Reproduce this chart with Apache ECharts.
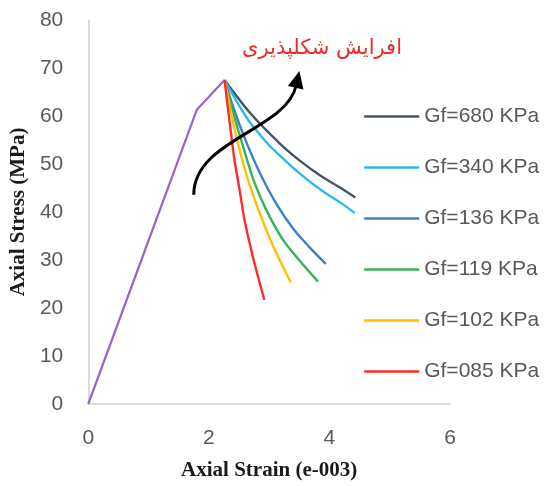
<!DOCTYPE html>
<html>
<head>
<meta charset="utf-8">
<script src="https://cdn.jsdelivr.net/npm/echarts@6/dist/echarts.min.js"></script>
<style>html,body{margin:0;padding:0;background:#fff}#c{width:544px;height:486px}</style>
</head>
<body>
<div id="c"></div>
<script>
// Elastic (pre-peak) branch
const preX = [0, 1.80, 2.26];
const preY = [0, 61.3, 67.5];
// Post-peak branches for each Gf
const names = ['Gf=680 KPa', 'Gf=340 KPa', 'Gf=136 KPa', 'Gf=119 KPa', 'Gf=102 KPa', 'Gf=085 KPa'];
const x680 = [2.26, 2.70, 3.20, 3.53, 3.86, 4.19, 4.43];
const y680 = [67.5, 60.4, 54.0, 50.5, 47.5, 45.0, 43.0];
const x340 = [2.26, 2.62, 2.95, 3.20, 3.53, 3.86, 4.19, 4.42];
const y340 = [67.5, 59.8, 54.6, 51.5, 47.8, 44.6, 41.9, 39.8];
const x136 = [2.26, 2.42, 2.62, 2.87, 3.12, 3.40, 3.66, 3.94];
const y136 = [67.5, 61.3, 54.6, 47.5, 41.7, 36.5, 32.8, 29.2];
const x119 = [2.26, 2.39, 2.56, 2.74, 2.95, 3.23, 3.49, 3.81];
const y119 = [67.5, 61.3, 54.0, 46.7, 40.5, 34.2, 30.1, 25.5];
const x102 = [2.26, 2.36, 2.49, 2.65, 2.84, 3.07, 3.36];
const y102 = [67.5, 61.3, 54.0, 46.7, 39.9, 32.8, 25.3];
const x085 = [2.26, 2.34, 2.42, 2.51, 2.60, 2.75, 2.92];
const y085 = [67.5, 59.2, 51.3, 44.6, 37.8, 29.7, 21.7];
const xTicks = [0, 2, 4, 6];
const yTicks = [0, 10, 20, 30, 40, 50, 60, 70, 80];
// Annotation arrow (data coords): start, control1, control2, end
const arrowX = [1.75, 1.75, 3.28, 3.44];
const arrowY = [43.6, 55.1, 57.0, 65.9];
const noteText = 'افرایش شکلپذیری';

const colors = ['#44546a', '#2fb8ee', '#3d80c6', '#36b35a', '#ffc000', '#ff2a2a'];
const xs = [x680, x340, x136, x119, x102, x085];
const ys = [y680, y340, y136, y119, y102, y085];
const pair = (a, b) => a.map((v, i) => [v, b[i]]);

const chart = echarts.init(document.getElementById('c'));
const series = [{
  type: 'line', name: 'pre', data: pair(preX, preY), symbol: 'none',
  lineStyle: { color: '#9a62cc', width: 2.2 }, itemStyle: { color: '#9a62cc' }, z: 1
}];
names.forEach((n, i) => {
  series.push({
    type: 'line', name: n, data: pair(xs[i], ys[i]), symbol: 'none', smooth: 0.3,
    lineStyle: { color: colors[i], width: 2.4 }, itemStyle: { color: colors[i] }, z: 2
  });
});

const tickFont = { fontFamily: 'Liberation Sans', fontSize: 21, color: '#595959' };
const titleFont = { fontFamily: 'Liberation Serif', fontSize: 21, fontWeight: 'bold', color: '#1a1a1a' };
chart.setOption({
  animation: false,
  grid: { left: 86, top: 20, width: 364, height: 384.5 },
  xAxis: {
    type: 'value', min: 0, max: 6, interval: 2,
    name: 'Axial Strain (e-003)', nameLocation: 'middle', nameGap: 56,
    nameTextStyle: titleFont,
    axisLine: { show: true, lineStyle: { color: '#d0d0d0', width: 1.5 } },
    axisTick: { show: false }, splitLine: { show: false },
    axisLabel: Object.assign({ margin: 24 }, tickFont)
  },
  yAxis: {
    type: 'value', min: 0, max: 80, interval: 10,
    name: 'Axial Stress (MPa)', nameLocation: 'middle', nameGap: 53,
    nameTextStyle: titleFont,
    axisLine: { show: true, lineStyle: { color: '#d0d0d0', width: 1.5 } },
    axisTick: { show: false }, splitLine: { show: false },
    axisLabel: Object.assign({ margin: 25 }, tickFont)
  },
  legend: {
    data: names, orient: 'vertical', left: 363, top: 106, padding: 0,
    itemWidth: 55, itemHeight: 21, itemGap: 30,
    itemStyle: { opacity: 0 },
    lineStyle: { width: 2.4 },
    textStyle: tickFont
  },
  series: series
});

// Annotation: curved arrow and text
const p = arrowX.map((x, i) => chart.convertToPixel({ gridIndex: 0 }, [x, arrowY[i]]));
const dx = p[3][0] - p[2][0], dy = p[3][1] - p[2][1];
const len = Math.hypot(dx, dy), ux = dx / len, uy = dy / len;
const nx = -uy, ny = ux;
const tip = [p[3][0] + ux * 17, p[3][1] + uy * 17];
chart.setOption({
  graphic: [
    {
      type: 'bezierCurve',
      shape: { x1: p[0][0], y1: p[0][1], cpx1: p[1][0], cpy1: p[1][1], cpx2: p[2][0], cpy2: p[2][1], x2: p[3][0] + ux * 2, y2: p[3][1] + uy * 2 },
      style: { stroke: '#000', lineWidth: 3, fill: null }, z: 10
    },
    {
      type: 'polygon',
      shape: { points: [tip, [p[3][0] + nx * 8, p[3][1] + ny * 8], [p[3][0] - nx * 8, p[3][1] - ny * 8]] },
      style: { fill: '#000' }, z: 10
    },
    {
      type: 'text', x: 322, y: 49,
      style: { text: noteText, font: '21px "DejaVu Sans"', fill: '#ee2b2b', align: 'center', verticalAlign: 'middle' }, z: 10
    }
  ]
});
</script>
</body>
</html>
